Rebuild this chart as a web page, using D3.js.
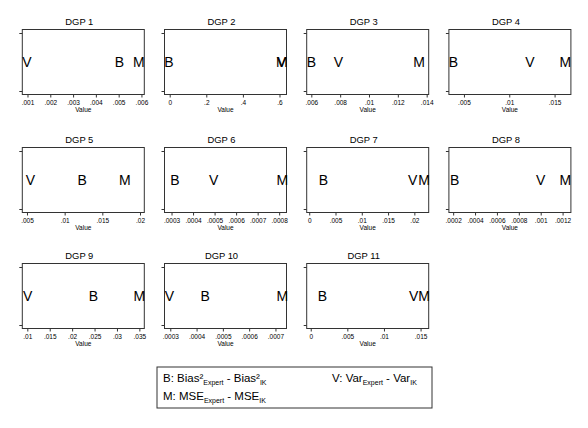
<!DOCTYPE html>
<html>
<head>
<meta charset="utf-8">
<script src="https://cdn.jsdelivr.net/npm/d3@7"></script>
<style>
body { margin: 0; background: #fff; }
text { font-family: "Liberation Sans", Arial, sans-serif; fill: #000; }
</style>
</head>
<body>
<div id="chart"></div>
<script>
// one panel per data generating process
var dgps = ["DGP 1", "DGP 2", "DGP 3", "DGP 4", "DGP 5", "DGP 6", "DGP 7", "DGP 8", "DGP 9", "DGP 10", "DGP 11"];

// B: Bias2 Expert - Bias2 IK, V: Var Expert - Var IK, M: MSE Expert - MSE IK
var biasDiff = [0.00503, -0.0044, 0.0060, 0.00385, 0.01234, 0.000316, 0.00269, 0.000213, 0.02473, 0.000433, 0.00159];
var varDiff  = [0.00098, 0.611, 0.00788, 0.01228, 0.00547, 0.000496, 0.01968, 0.001, 0.01009, 0.000297, 0.01405];
var mseDiff  = [0.00589, 0.6126, 0.01347, 0.0162, 0.0180, 0.000815, 0.02187, 0.001226, 0.0350, 0.000726, 0.01549];

// x axis range of each panel
var xMin = [0.000772, -0.0284, 0.00568, 0.00334, 0.00438, 0.0002674, -0.00048, 0.000161, 0.00888, 0.000278, -0.00055];
var xMax = [0.006125, 0.6383, 0.01414, 0.0168, 0.02057, 0.000834, 0.02273, 0.001276, 0.0361, 0.000742, 0.01611];

var tickVals = [
    [0.001, 0.002, 0.003, 0.004, 0.005, 0.006],
    [0, 0.2, 0.4, 0.6],
    [0.006, 0.008, 0.01, 0.012, 0.014],
    [0.005, 0.01, 0.015],
    [0.005, 0.01, 0.015, 0.02],
    [0.0003, 0.0004, 0.0005, 0.0006, 0.0007, 0.0008],
    [0, 0.005, 0.01, 0.015, 0.02],
    [0.0002, 0.0004, 0.0006, 0.0008, 0.001, 0.0012],
    [0.01, 0.015, 0.02, 0.025, 0.03, 0.035],
    [0.0003, 0.0004, 0.0005, 0.0006, 0.0007],
    [0, 0.005, 0.01, 0.015]
];

var W = 588, H = 428;
var boxW = 122, boxH = 65;
var colLeft = [22.3, 164.5, 306.7, 448.9];
var rowTop = [29.5, 147.5, 263.5];

var svg = d3.select("#chart").append("svg")
    .attr("width", W)
    .attr("height", H);

svg.append("rect").attr("width", W).attr("height", H).attr("fill", "#fff");

function fmtTick(v) {
    return String(v).replace(/^0\./, ".");
}

dgps.forEach(function (name, i) {
    var left = colLeft[i % 4], top = rowTop[Math.floor(i / 4)];

    var g = svg.append("g")
        .attr("transform", "translate(" + left + "," + top + ")");

    var x = d3.scaleLinear().domain([xMin[i], xMax[i]]).range([0, boxW]);
    var y = d3.scaleLinear().domain([0, 1]).range([boxH - 3.5, 3.5]);

    g.append("text")
        .attr("x", boxW / 2 - 4)
        .attr("y", -5)
        .attr("text-anchor", "middle")
        .style("font-size", "9.4px")
        .text(name);

    // x axis
    var xAxis = g.append("g")
        .attr("transform", "translate(0," + boxH + ")")
        .call(d3.axisBottom(x).tickValues(tickVals[i]).tickFormat(fmtTick).tickSize(3).tickSizeOuter(0));
    xAxis.select(".domain").remove();
    xAxis.selectAll("line").attr("stroke", "#333");
    xAxis.selectAll("text")
        .attr("y", 10)
        .attr("dy", null)
        .style("font-size", "6.5px")
        .style("font-family", "'Liberation Sans', Arial, sans-serif");

    g.append("text")
        .attr("x", boxW / 2)
        .attr("y", boxH + 17.5)
        .attr("text-anchor", "middle")
        .style("font-size", "6.5px")
        .text("Value");

    // y axis, ticks only
    var yAxis = g.append("g")
        .call(d3.axisLeft(y).tickValues([0, 1]).tickFormat("").tickSize(3).tickSizeOuter(0));
    yAxis.select(".domain").remove();
    yAxis.selectAll("line").attr("stroke", "#333");

    g.append("rect")
        .attr("width", boxW)
        .attr("height", boxH)
        .attr("fill", "none")
        .attr("stroke", "#333")
        .attr("stroke-width", 1);

    var marks = [
        { key: "B", value: biasDiff[i] },
        { key: "V", value: varDiff[i] },
        { key: "M", value: mseDiff[i] }
    ];

    g.selectAll(".mark")
        .data(marks)
        .enter().append("text")
        .attr("class", "mark")
        .attr("x", function (d) { return x(d.value); })
        .attr("y", y(0.5))
        .attr("dy", "0.36em")
        .attr("text-anchor", "middle")
        .style("font-size", "14px")
        .text(function (d) { return d.key; });
});

// legend
var legendItems = [
    { lab: "B: Bias\u00b2", sub1: "Expert", mid: " - Bias\u00b2", sub2: "IK", col: 0, row: 0 },
    { lab: "V: Var", sub1: "Expert", mid: " - Var", sub2: "IK", col: 1, row: 0 },
    { lab: "M: MSE", sub1: "Expert", mid: " - MSE", sub2: "IK", col: 0, row: 1 }
];

var legend = svg.append("g").attr("transform", "translate(157,367)");

legend.append("rect")
    .attr("width", 275)
    .attr("height", 41)
    .attr("fill", "#fff")
    .attr("stroke", "#333")
    .attr("stroke-width", 1);

legendItems.forEach(function (d) {
    var t = legend.append("text")
        .attr("x", 6 + d.col * 169)
        .attr("y", 15 + d.row * 18)
        .style("font-size", "11.5px");
    t.append("tspan").text(d.lab);
    t.append("tspan").attr("dy", 2.5).style("font-size", "7px").text(d.sub1);
    t.append("tspan").attr("dy", -2.5).text(d.mid);
    t.append("tspan").attr("dy", 2.5).style("font-size", "7px").text(d.sub2);
});
</script>
</body>
</html>
